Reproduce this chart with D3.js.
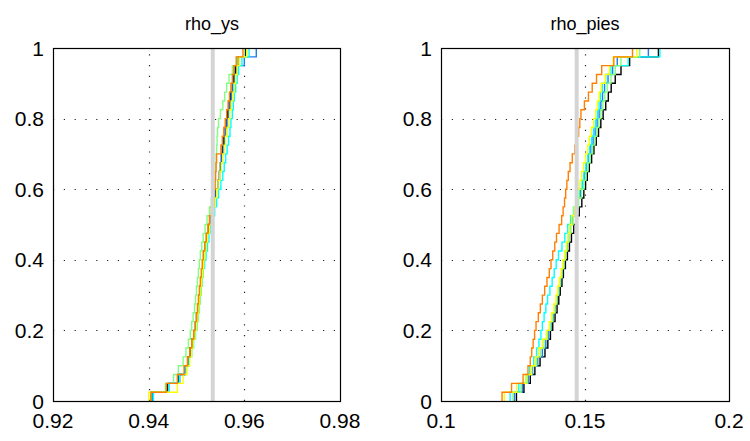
<!DOCTYPE html>
<html>
<head>
<meta charset="utf-8">
<script src="https://cdn.jsdelivr.net/npm/d3@7"></script>
<style>
  body { margin: 0; background: #fff; }
  svg { font-family: "Liberation Sans", Arial, sans-serif; }
  .tick-label { font-size: 21px; fill: #000; }
  .title { font-size: 18px; fill: #000; }
</style>
</head>
<body>
<svg id="chart" width="750" height="441"></svg>
<script>
/* global d3 */

// axis ticks
const yTicks = [0, 0.2, 0.4, 0.6, 0.8, 1];
const ysTicks = [0.92, 0.94, 0.96, 0.98];
const piesTicks = [0.1, 0.15, 0.2];

// true values (grey vertical line)
const ysTrue = 0.9534;
const piesTrue = 0.1471;

const seriesColors = ['#000000', '#1a7ff0', '#00ffff', '#80ff80', '#ffff00', '#ff8000'];

// sorted draws, rho_ys
const ysBlack = [0.9405, 0.9440, 0.9462, 0.9476, 0.9482, 0.9486, 0.9490, 0.9495, 0.9498, 0.9500,
  0.9503, 0.9505, 0.9507, 0.9509, 0.9511, 0.9513, 0.9515, 0.9518, 0.9522, 0.9525,
  0.9528, 0.9532, 0.9536, 0.9540, 0.9545, 0.9548, 0.9550, 0.9552, 0.9554, 0.9557,
  0.9560, 0.9562, 0.9565, 0.9568, 0.9571, 0.9575, 0.9578, 0.9581, 0.9586, 0.9603];
const ysBlue = [0.9408, 0.9442, 0.9465, 0.9477, 0.9483, 0.9487, 0.9491, 0.9495, 0.9498, 0.9501,
  0.9503, 0.9505, 0.9507, 0.9509, 0.9511, 0.9513, 0.9516, 0.9519, 0.9522, 0.9526,
  0.9529, 0.9533, 0.9537, 0.9541, 0.9545, 0.9548, 0.9551, 0.9553, 0.9556, 0.9558,
  0.9561, 0.9564, 0.9567, 0.9570, 0.9573, 0.9576, 0.9579, 0.9584, 0.9600, 0.9625];
const ysCyan = [0.9410, 0.9442, 0.9464, 0.9478, 0.9485, 0.9490, 0.9494, 0.9498, 0.9501, 0.9504,
  0.9506, 0.9508, 0.9510, 0.9512, 0.9514, 0.9517, 0.9520, 0.9523, 0.9526, 0.9530,
  0.9534, 0.9538, 0.9542, 0.9546, 0.9551, 0.9555, 0.9558, 0.9561, 0.9564, 0.9567,
  0.9570, 0.9572, 0.9575, 0.9577, 0.9579, 0.9582, 0.9585, 0.9588, 0.9595, 0.9610];
const ysGreen = [0.9405, 0.9435, 0.9452, 0.9462, 0.9472, 0.9478, 0.9483, 0.9487, 0.9490, 0.9493,
  0.9496, 0.9498, 0.9500, 0.9502, 0.9504, 0.9506, 0.9508, 0.9511, 0.9514, 0.9518,
  0.9522, 0.9527, 0.9531, 0.9535, 0.9538, 0.9539, 0.9540, 0.9541, 0.9542, 0.9543,
  0.9544, 0.9546, 0.9550, 0.9555, 0.9559, 0.9563, 0.9568, 0.9575, 0.9585, 0.9600];
const ysYellow = [0.9400, 0.9460, 0.9472, 0.9480, 0.9486, 0.9490, 0.9493, 0.9497, 0.9500, 0.9503,
  0.9505, 0.9507, 0.9509, 0.9511, 0.9513, 0.9515, 0.9517, 0.9520, 0.9523, 0.9527,
  0.9531, 0.9535, 0.9539, 0.9542, 0.9545, 0.9549, 0.9552, 0.9555, 0.9558, 0.9561,
  0.9564, 0.9567, 0.9570, 0.9573, 0.9576, 0.9579, 0.9582, 0.9585, 0.9590, 0.9605];
const ysOrange = [0.9405, 0.9437, 0.9460, 0.9474, 0.9481, 0.9486, 0.9490, 0.9494, 0.9497, 0.9500,
  0.9502, 0.9504, 0.9506, 0.9508, 0.9510, 0.9512, 0.9514, 0.9517, 0.9520, 0.9524,
  0.9527, 0.9531, 0.9535, 0.9537, 0.9539, 0.9540, 0.9541, 0.9542, 0.9551, 0.9554,
  0.9557, 0.9560, 0.9563, 0.9566, 0.9569, 0.9572, 0.9575, 0.9578, 0.9583, 0.9597];

// sorted draws, rho_pies
const piesBlack = [0.1262, 0.1288, 0.1310, 0.1326, 0.1344, 0.1361, 0.1371, 0.1380, 0.1388, 0.1396,
  0.1403, 0.1409, 0.1414, 0.1420, 0.1425, 0.1432, 0.1439, 0.1446, 0.1453, 0.1461,
  0.1469, 0.1480, 0.1489, 0.1496, 0.1502, 0.1508, 0.1515, 0.1523, 0.1531, 0.1539,
  0.1547, 0.1555, 0.1563, 0.1572, 0.1581, 0.1591, 0.1605, 0.1625, 0.1655, 0.1755];
const piesBlue = [0.1255, 0.1282, 0.1303, 0.1318, 0.1336, 0.1352, 0.1364, 0.1374, 0.1382, 0.1390,
  0.1397, 0.1403, 0.1409, 0.1415, 0.1420, 0.1426, 0.1432, 0.1438, 0.1443, 0.1449,
  0.1456, 0.1466, 0.1476, 0.1485, 0.1492, 0.1498, 0.1505, 0.1512, 0.1520, 0.1528,
  0.1535, 0.1542, 0.1549, 0.1555, 0.1561, 0.1568, 0.1580, 0.1596, 0.1612, 0.1720];
const piesCyan = [0.1240, 0.1270, 0.1295, 0.1308, 0.1322, 0.1332, 0.1340, 0.1347, 0.1352, 0.1358,
  0.1364, 0.1370, 0.1378, 0.1386, 0.1393, 0.1400, 0.1408, 0.1420, 0.1430, 0.1440,
  0.1450, 0.1460, 0.1470, 0.1480, 0.1490, 0.1496, 0.1503, 0.1510, 0.1516, 0.1523,
  0.1530, 0.1537, 0.1543, 0.1549, 0.1554, 0.1560, 0.1572, 0.1590, 0.1650, 0.1760];
const piesGreen = [0.1250, 0.1278, 0.1300, 0.1315, 0.1332, 0.1345, 0.1358, 0.1370, 0.1380, 0.1388,
  0.1396, 0.1402, 0.1408, 0.1414, 0.1420, 0.1426, 0.1432, 0.1438, 0.1444, 0.1451,
  0.1459, 0.1468, 0.1478, 0.1488, 0.1496, 0.1503, 0.1510, 0.1518, 0.1526, 0.1534,
  0.1541, 0.1548, 0.1555, 0.1562, 0.1569, 0.1577, 0.1590, 0.1605, 0.1625, 0.1690];
const piesYellow = [0.1220, 0.1262, 0.1295, 0.1314, 0.1328, 0.1338, 0.1352, 0.1366, 0.1376, 0.1384,
  0.1392, 0.1399, 0.1405, 0.1411, 0.1417, 0.1423, 0.1429, 0.1435, 0.1441, 0.1447,
  0.1454, 0.1462, 0.1470, 0.1477, 0.1482, 0.1488, 0.1495, 0.1502, 0.1509, 0.1515,
  0.1522, 0.1530, 0.1537, 0.1543, 0.1549, 0.1556, 0.1570, 0.1585, 0.1598, 0.1680];
const piesOrange = [0.1212, 0.1245, 0.1285, 0.1302, 0.1310, 0.1315, 0.1320, 0.1325, 0.1330, 0.1338,
  0.1345, 0.1352, 0.1360, 0.1368, 0.1376, 0.1382, 0.1388, 0.1395, 0.1401, 0.1410,
  0.1419, 0.1424, 0.1429, 0.1433, 0.1437, 0.1442, 0.1448, 0.1456, 0.1465, 0.1472,
  0.1478, 0.1482, 0.1486, 0.1498, 0.1512, 0.1525, 0.1540, 0.1558, 0.1600, 0.1665];

const panels = [
  { title: 'rho_ys', domain: [0.92, 0.98], ticks: ysTicks, trueVal: ysTrue,
    left: 53, right: 340, titleX: 212,
    series: [ysBlack, ysBlue, ysCyan, ysGreen, ysYellow, ysOrange] },
  { title: 'rho_pies', domain: [0.1, 0.2], ticks: piesTicks, trueVal: piesTrue,
    left: 441, right: 729, titleX: 585,
    series: [piesBlack, piesBlue, piesCyan, piesGreen, piesYellow, piesOrange] },
];

const plotTop = 48;
const plotBottom = 401;

const svg = d3.select('#chart');

const y = d3.scaleLinear().domain([0, 1]).range([plotBottom, plotTop]);

const addPanel = panel => {
  const x = d3.scaleLinear().domain(panel.domain).range([panel.left, panel.right]);
  const g = svg.append('g');

  // dotted grid
  g.selectAll('.vgrid')
    .data(panel.ticks.slice(1, -1))
    .enter().append('line')
      .attr('x1', d => Math.round(x(d)) + 0.5)
      .attr('x2', d => Math.round(x(d)) + 0.5)
      .attr('y1', plotBottom)
      .attr('y2', plotTop)
      .style('stroke', '#222')
      .style('stroke-width', 1.2)
      .style('stroke-dasharray', '1.2,9.6');

  g.selectAll('.hgrid')
    .data(yTicks.slice(1, -1))
    .enter().append('line')
      .attr('x1', panel.left)
      .attr('x2', panel.right)
      .attr('y1', d => Math.round(y(d)) + 0.5)
      .attr('y2', d => Math.round(y(d)) + 0.5)
      .style('stroke', '#222')
      .style('stroke-width', 1.2)
      .style('stroke-dasharray', '1.2,9.6');

  // empirical cdf of each set of draws
  const line = d3.line()
    .x(d => x(d[0]))
    .y(d => y(d[1]))
    .curve(d3.curveStepAfter);

  panel.series.forEach((vals, i) => {
    const n = vals.length;
    const pts = [[vals[0], 0]].concat(vals.map((v, k) => [v, (k + 1) / n]));
    g.append('path')
      .attr('d', line(pts))
      .style('fill', 'none')
      .style('stroke', seriesColors[i])
      .style('stroke-width', 1.4);
  });

  // true value
  g.append('line')
    .attr('x1', x(panel.trueVal))
    .attr('x2', x(panel.trueVal))
    .attr('y1', plotBottom)
    .attr('y2', plotTop)
    .style('stroke', '#d4d4d4')
    .style('stroke-width', 4);

  // axes box
  g.append('rect')
    .attr('x', panel.left + 0.5)
    .attr('y', plotTop + 0.5)
    .attr('width', panel.right - panel.left)
    .attr('height', plotBottom - plotTop)
    .style('fill', 'none')
    .style('stroke', '#000')
    .style('stroke-width', 1.2);

  g.selectAll('.xlabel')
    .data(panel.ticks)
    .enter().append('text')
      .attr('class', 'tick-label')
      .attr('x', d => x(d))
      .attr('y', plotBottom + 27)
      .attr('text-anchor', 'middle')
      .text(d => String(d));

  g.selectAll('.ylabel')
    .data(yTicks)
    .enter().append('text')
      .attr('class', 'tick-label')
      .attr('x', panel.left - 9)
      .attr('y', d => y(d))
      .attr('dy', '0.36em')
      .attr('text-anchor', 'end')
      .text(d => String(d));

  g.append('text')
    .attr('class', 'title')
    .attr('x', panel.titleX)
    .attr('y', 30)
    .attr('text-anchor', 'middle')
    .text(panel.title);
};

panels.forEach(addPanel);
</script>
</body>
</html>
